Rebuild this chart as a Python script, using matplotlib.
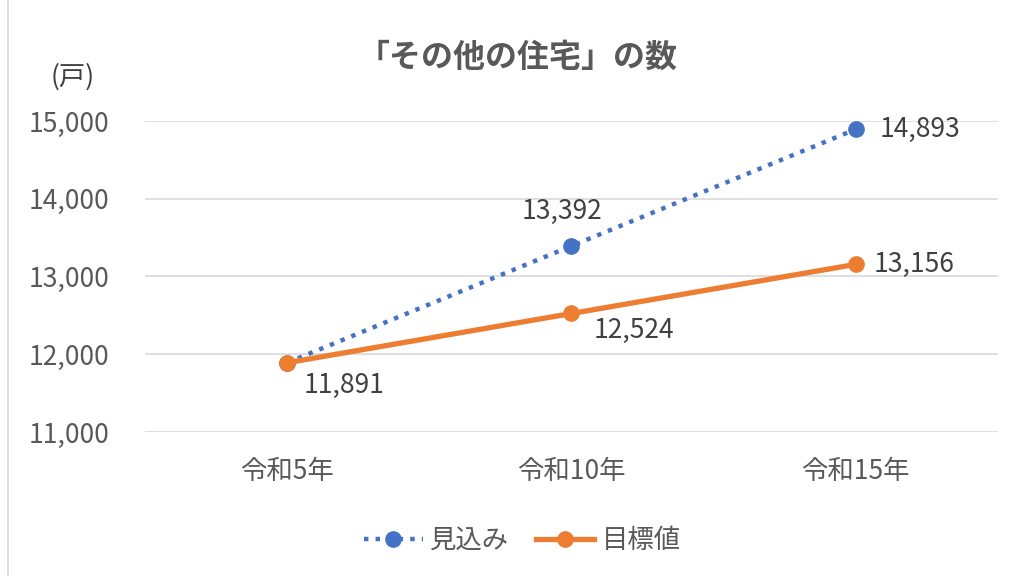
import matplotlib.pyplot as plt
from matplotlib.patches import Rectangle

plt.rcParams['font.family'] = ['Noto Sans CJK JP', 'DejaVu Sans']

categories = ['令和5年', '令和10年', '令和15年']
mikomi = [11891, 13392, 14893]
mokuhyo = [11891, 12524, 13156]

blue = '#4472C4'
orange = '#ED7D31'
gray = '#595959'

fig = plt.figure(figsize=(10.19, 5.76), dpi=100)
ax = fig.add_axes([0.1423, 0.25, 0.837, 0.54])

x = list(range(len(categories)))
ax.plot(x, mikomi, color=blue, linestyle=(0, (1, 1.6)), linewidth=3.2,
        marker='o', markersize=11, label='見込み', zorder=3)
ax.plot(x, mokuhyo, color=orange, linewidth=3.8,
        marker='o', markersize=11, label='目標値', zorder=4)

ax.set_xlim(-0.5, 2.5)
ax.set_ylim(11000, 15000)
ax.set_yticks([11000, 12000, 13000, 14000, 15000])
ax.set_yticklabels([f'{v:,}' for v in ax.get_yticks()])
ax.set_xticks(x)
ax.set_xticklabels(categories)
ax.tick_params(axis='both', length=0, colors=gray, labelsize=19)
ax.tick_params(axis='y', pad=26)
ax.tick_params(axis='x', pad=19)
for s in ax.spines.values():
    s.set_visible(False)
ax.grid(axis='y', color='#D9D9D9', linewidth=1.2)
ax.set_axisbelow(True)

lab = dict(fontsize=19, color='#404040', textcoords='offset points', va='center')
ax.annotate(f'{mikomi[1]:,}', (x[1], mikomi[1]), xytext=(-6.5, 25), ha='center', **lab)
ax.annotate(f'{mikomi[2]:,}', (x[2], mikomi[2]), xytext=(17, 0), ha='left', **lab)
ax.annotate(f'{mokuhyo[0]:,}', (x[0], mokuhyo[0]), xytext=(41, -16.5), ha='center', **lab)
ax.annotate(f'{mokuhyo[1]:,}', (x[1], mokuhyo[1]), xytext=(45, -12), ha='center', **lab)
ax.annotate(f'{mokuhyo[2]:,}', (x[2], mokuhyo[2]), xytext=(13, 0), ha='left', **lab)

fig.text(0.508, 0.9, '「その他の住宅」の数', ha='center', va='center',
         fontsize=23, fontweight='bold', color='#595959')
fig.text(0.071, 0.866, '(戸)', ha='center', va='center', fontsize=19, color='#404040')

fig.legend(loc='center', bbox_to_anchor=(0.513, 0.062), ncol=2, frameon=False,
           fontsize=19, labelcolor=gray, handlelength=2.2, columnspacing=1.0,
           handletextpad=0.3)

fig.patches.append(Rectangle((0.008, -0.1), 1.2, 1.2, transform=fig.transFigure,
                             fill=False, edgecolor='#D9D9D9', linewidth=1.2))

fig.savefig('out.png', dpi=100)
